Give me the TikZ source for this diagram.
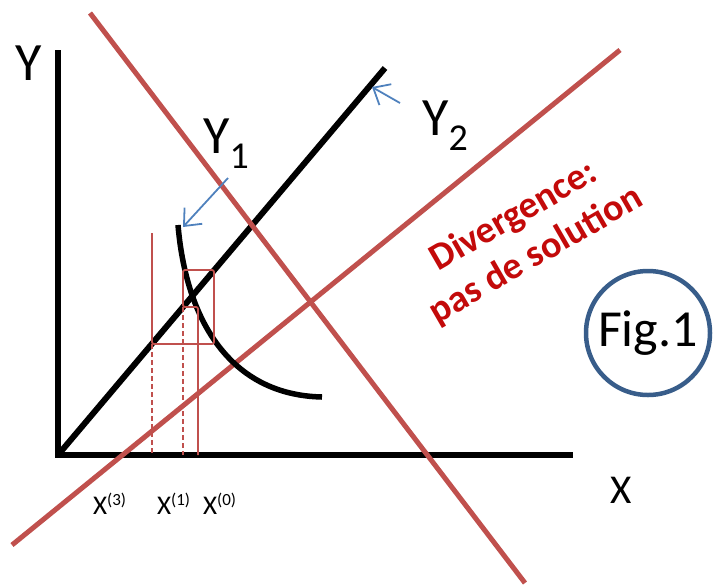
\documentclass[tikz,border=0pt]{standalone}
\usepackage{fontspec}
\setmainfont{Carlito}
\definecolor{LineRed}{RGB}{192,80,77}
\definecolor{ArrowBlue}{RGB}{79,129,189}
\definecolor{RingBlue}{RGB}{56,93,138}
\definecolor{TextRed}{RGB}{195,10,10}
\usetikzlibrary{arrows.meta, positioning}

\begin{document}
\begin{tikzpicture}[x=1pt, y=-1pt,
	axisline/.style={line width=6pt, black},
	redline/.style={line width=5pt, LineRed},
	iterline/.style={line width=1.8pt, LineRed, rounded corners=2pt},
	pointer/.style={line width=1.8pt, ArrowBlue, -{Straight Barb[length=14pt, width=24pt]}},
	lab/.style={anchor=base west, inner sep=0pt},
	every node/.style={text=black}]
	\useasboundingbox (0,0) rectangle (714,587);
	\coordinate (O) at (58,455);
	\coordinate (Ytop) at (58,50);
	\coordinate (Xend) at (573,455);
	\coordinate (Ytwo) at (385,68);
	\coordinate (Ra) at (90,13);
	\coordinate (Rb) at (525,583);
	\coordinate (Rc) at (12,545);
	\coordinate (Rd) at (620,50);
	\draw[axisline] (Ytop) -- (O) -- (Xend);
	\draw[axisline] (O) -- (Ytwo);
	\draw[redline] (Ra) -- (Rb);
	\draw[redline] (Rc) -- (Rd);
	\coordinate (Ctop) at (178,225);
	\coordinate (Cend) at (322,397);
	\draw[line width=5.5pt] (Ctop) .. controls (186,320) and (230,395) .. (Cend);
	\coordinate (Ycurve) at (183,227);
	\coordinate (Yline) at (372,87);
	\draw[iterline] (198,455) -- (198,307) -- (183,307) -- (183,270) -- (214,270)
		-- (214,344) -- (152,344) -- (152,233);
	\draw[iterline, dash pattern=on 5pt off 3pt] (183,307) -- (183,455);
	\draw[iterline, dash pattern=on 5pt off 3pt] (152,344) -- (152,455);
	\node[lab, font=\fontsize{54}{54}\selectfont] (ylab) at (15,80) {Y};
	\node[lab, font=\fontsize{41}{41}\selectfont] (xlab) at (610,503) {X};
	\node[lab, font=\fontsize{54}{54}\selectfont] (yone) at (203,153)
		{Y\raisebox{-15pt}{\fontsize{38}{38}\selectfont 1}};
	\node[lab, font=\fontsize{54}{54}\selectfont] (ytwo) at (422,135)
		{Y\raisebox{-15pt}{\fontsize{38}{38}\selectfont 2}};
	\draw[pointer] (228,178) -- (Ycurve);
	\draw[pointer] (400,103) -- (Yline);
	\foreach \k/\xx in {3/93, 1/157, 0/203}
		\node[lab, font=\fontsize{27}{27}\selectfont] (x\k) at (\xx,514)
			{X\raisebox{9pt}{\fontsize{17}{17}\selectfont(\k)}};
	\node[rotate=30, align=center, text=TextRed, font=\fontsize{38}{45}\selectfont\bfseries]
		(div) at (525,236) {Divergence:\\pas de solution};
	\node[circle, draw=RingBlue, line width=4.5pt, minimum size=124pt, inner sep=0pt,
		font=\fontsize{52}{52}\selectfont] (fig) at (648,333) {Fig.1};
\end{tikzpicture}
\end{document}
